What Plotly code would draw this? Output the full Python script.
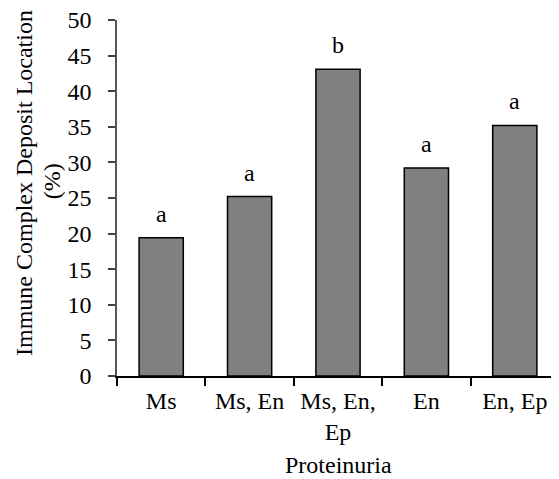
import plotly.graph_objects as go

categories = ["Ms", "Ms, En", "Ms, En,<br>Ep", "En", "En, Ep"]
values = [19.4, 25.2, 43.1, 29.2, 35.2]
letters = ["a", "a", "b", "a", "a"]
y_ticks = [0, 5, 10, 15, 20, 25, 30, 35, 40, 45, 50]
y_title_lines = ["Immune Complex Deposit Location", "(%)"]
x_title = "Proteinuria"

FONT = "Liberation Serif, Times New Roman, serif"
FS = 24
xpos = list(range(len(categories)))

fig = go.Figure()
fig.add_trace(go.Bar(
    x=xpos, y=values,
    marker=dict(color="#808080", line=dict(color="black", width=1.5)),
    width=0.5,
))

for xi, v, t in zip(xpos, values, letters):
    fig.add_annotation(x=xi, y=v, text=t, showarrow=False, xref="x", yref="y",
                       yanchor="bottom", yshift=9,
                       font=dict(family=FONT, size=FS, color="black"))

for txt, px, py in zip(y_title_lines, [-0.212, -0.148], [0.543, 0.546]):
    fig.add_annotation(text=txt, textangle=-90,
                       xref="paper", yref="paper", x=px, y=py,
                       xanchor="center", yanchor="middle", showarrow=False,
                       font=dict(family=FONT, size=FS, color="black"))
fig.add_annotation(text=x_title, xref="paper", yref="paper",
                   x=0.5, y=-0.25, xanchor="center", yanchor="middle", showarrow=False,
                   font=dict(family=FONT, size=FS, color="black"))

fig.update_layout(
    width=551, height=471,
    margin=dict(l=109, r=0, t=12, b=103),
    plot_bgcolor="white", paper_bgcolor="white",
    showlegend=False,
    font=dict(family=FONT, size=FS, color="black"),
    xaxis=dict(
        range=[-0.5, 4.5], tickmode="array", tickvals=xpos, ticktext=categories,
        ticks="", showgrid=False, zeroline=False,
        showline=True, linecolor="black", linewidth=1.5,
        minor=dict(tickmode="array", tickvals=[-0.5, 0.5, 1.5, 2.5, 3.5],
                   ticks="outside", ticklen=8, tickwidth=2, tickcolor="black", showgrid=False),
        ticklabelstandoff=2,
        ticklabeloverflow="allow",
        tickfont=dict(family=FONT, size=FS, color="black"),
        fixedrange=True,
    ),
    yaxis=dict(
        range=[0, 50], tickmode="array", tickvals=y_ticks,
        ticks="outside", ticklen=7, tickwidth=1.5, tickcolor="#404040",
        showgrid=False, zeroline=False,
        showline=True, linecolor="#555555", linewidth=1.5,
        ticklabelstandoff=12,
        ticklabeloverflow="allow",
        tickfont=dict(family=FONT, size=FS, color="black"),
        fixedrange=True,
    ),
)

fig.write_html("out.html")
